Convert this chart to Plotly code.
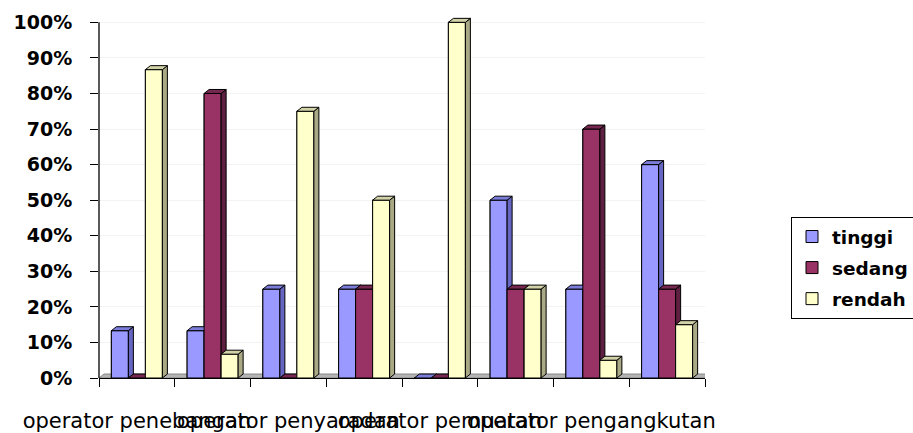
import plotly.graph_objects as go

# Data: share of respondents per level, for each of eight groups
categories = ["operator penebangan", "", "operator penyaradan", "",
              "operator pemuatan", "", "operator pengangkutan", ""]
series_names = ["tinggi", "sedang", "rendah"]
tinggi = [13.3, 13.3, 25, 25, 0, 50, 25, 60]
sedang = [0, 80, 0, 25, 0, 25, 70, 25]
rendah = [86.7, 6.7, 75, 50, 100, 25, 5, 15]
y_ticks = [0, 10, 20, 30, 40, 50, 60, 70, 80, 90, 100]
y_ticktext = [f"{v}%" for v in y_ticks]

values = [tinggi, sedang, rendah]
front_colors = ["#9999FF", "#993366", "#FFFFCC"]
side_colors = ["#6666C2", "#5E1F40", "#A9A985"]
top_colors = ["#7C7CD9", "#772850", "#D2D2A8"]

BAR_W = 0.2245      # bar width in category units
DX = 0.066          # depth offset along x (category units)
DY = 1.12           # depth offset along y (percent units)
FONT = "DejaVu Sans"

fig = go.Figure()

# Flat bars carry the data and the legend entries
for j, name in enumerate(series_names):
    fig.add_trace(go.Bar(
        x=list(range(len(categories))), y=values[j], name=name,
        width=BAR_W, offset=(j - 1.5) * BAR_W,
        marker=dict(color=front_colors[j], line=dict(color="black", width=1)),
        legendgroup=name,
    ))


def poly(xs, ys, color):
    fig.add_trace(go.Scatter(
        x=xs + [xs[0]], y=ys + [ys[0]], mode="lines", fill="toself",
        fillcolor=color, line=dict(color="black", width=1),
        hoverinfo="skip", showlegend=False,
    ))


# Faces of the 3-D columns, painted back-to-front within each group
for i in range(len(categories)):
    for j in range(3):
        h = values[j][i]
        xl = i + (j - 1.5) * BAR_W
        xr = xl + BAR_W
        poly([xl, xr, xr, xl], [0, 0, h, h], front_colors[j])
        poly([xr, xr + DX, xr + DX, xr], [0, DY, h + DY, h], side_colors[j])
        poly([xl, xr, xr + DX, xl + DX], [h, h, h + DY, h + DY], top_colors[j])

n = len(categories)
# Floor of the chart and the value axis line
fig.add_shape(type="path", xref="x", yref="y", layer="below",
              path=f"M {-0.5},0 L {n - 0.5},0 L {n - 0.5 + DX},{DY} L {-0.5 + DX},{DY} Z",
              fillcolor="#B4B4B4", line=dict(color="#888888", width=1))
fig.add_shape(type="line", xref="paper", yref="y", x0=0, x1=0, y0=0, y1=100,
              line=dict(color="black", width=1.3))

fig.update_layout(
    width=913, height=433,
    margin=dict(l=99, r=208, t=17, b=55, autoexpand=False),
    paper_bgcolor="white", plot_bgcolor="white",
    barmode="overlay",
    showlegend=True,
    legend=dict(
        xref="container", yref="container",
        x=791 / 913, xanchor="left", y=1 - 217 / 433, yanchor="top",
        font=dict(family=FONT, size=18.5, color="black", weight="bold"),
        bordercolor="black", borderwidth=1, bgcolor="white",
        tracegroupgap=4, itemwidth=30,
    ),
    xaxis=dict(
        range=[-0.5, n - 0.5],
        automargin=False,
        tickmode="array",
        tickvals=[i for i in range(n) if categories[i]],
        ticktext=[c for c in categories if c],
        tickangle=0,
        ticks="",
        tickfont=dict(family=FONT, size=21, color="black"),
        ticklabelstandoff=24,
        showline=True, linecolor="black", linewidth=1.3,
        showgrid=False, zeroline=False,
        minor=dict(tickmode="linear", tick0=-0.5, dtick=1, ticks="outside",
                   ticklen=8, tickcolor="black", tickwidth=1.3, showgrid=False),
    ),
    yaxis=dict(
        range=[0, 101.5],
        automargin=False,
        tickmode="array", tickvals=y_ticks, ticktext=y_ticktext,
        ticks="outside", ticklen=8, tickcolor="black", tickwidth=1.3,
        tickfont=dict(family=FONT, size=19, color="black", weight="bold"),
        ticklabelstandoff=14,
        showline=False, showgrid=True, gridcolor="#F3F3F3", zeroline=False,
    ),
)

fig.write_html("out.html")
